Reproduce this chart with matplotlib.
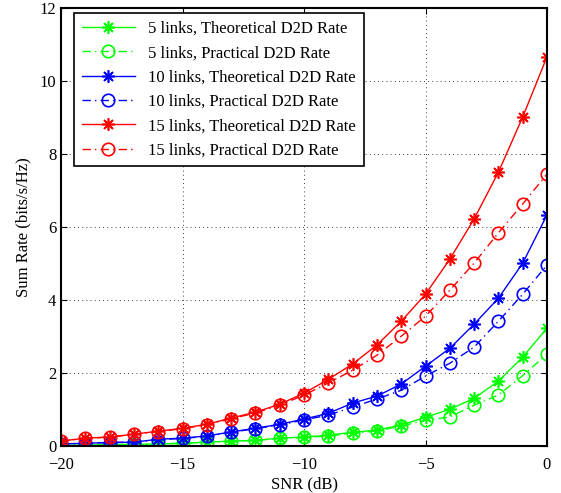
import matplotlib
matplotlib.use('Agg')
import matplotlib.pyplot as plt
import numpy as np

plt.rcParams['font.family'] = 'Liberation Serif'
plt.rcParams['font.size'] = 12
plt.rcParams['mathtext.fontset'] = 'stix'

snr = np.arange(-20, 1, 1)

# sum rate values (bits/s/Hz)
theo_5 = [0.02, 0.03, 0.04, 0.05, 0.06, 0.08, 0.11, 0.14, 0.16, 0.22, 0.25,
          0.30, 0.38, 0.44, 0.58, 0.79, 1.01, 1.31, 1.78, 2.44, 3.23]
prac_5 = [0.02, 0.03, 0.04, 0.05, 0.06, 0.08, 0.11, 0.13, 0.16, 0.21, 0.24,
          0.28, 0.35, 0.42, 0.55, 0.71, 0.80, 1.12, 1.40, 1.93, 2.52]
theo_10 = [0.06, 0.08, 0.10, 0.11, 0.19, 0.22, 0.28, 0.39, 0.49, 0.60, 0.74,
           0.90, 1.18, 1.37, 1.70, 2.19, 2.68, 3.34, 4.05, 5.01, 6.33]
prac_10 = [0.06, 0.08, 0.10, 0.11, 0.18, 0.21, 0.27, 0.38, 0.48, 0.58, 0.72,
           0.85, 1.07, 1.29, 1.53, 1.92, 2.27, 2.71, 3.42, 4.16, 4.96]
theo_15 = [0.14, 0.22, 0.25, 0.33, 0.41, 0.49, 0.60, 0.77, 0.93, 1.15, 1.45,
           1.83, 2.25, 2.77, 3.42, 4.16, 5.12, 6.22, 7.50, 9.01, 10.66]
prac_15 = [0.14, 0.21, 0.25, 0.32, 0.40, 0.48, 0.59, 0.75, 0.91, 1.12, 1.40,
           1.73, 2.08, 2.49, 3.01, 3.56, 4.27, 5.01, 5.84, 6.63, 7.45]

fig = plt.figure(figsize=(5.61, 4.93), dpi=100)
ax = fig.add_axes([0.109, 0.095, 0.866, 0.889])

star = (8, 2, 0)   # matlab style asterisk
ms_star = 9
ms_circ = 9
series = [
    (theo_5, prac_5, '#00ff00', '5 links'),
    (theo_10, prac_10, '#0000ff', '10 links'),
    (theo_15, prac_15, '#ff0000', '15 links'),
]
for theo, prac, c, name in series:
    ax.plot(snr, theo, '-', marker=star, color=c, lw=1, ms=ms_star, mew=1.2,
            label=name + ', Theoretical D2D Rate')
    ax.plot(snr, prac, linestyle=(0, (6, 3, 1, 3)), marker='o', color=c, lw=1,
            ms=ms_circ, mew=1.2, mfc='none', label=name + ', Practical D2D Rate')

ax.set_xlim(-20, 0)
ax.set_ylim(0, 12)
ax.set_xticks([-20, -15, -10, -5, 0])
ax.set_yticks([0, 2, 4, 6, 8, 10, 12])
ax.tick_params(direction='in', length=4, width=0.8, top=True, right=True)
ax.tick_params(axis='x', pad=8)
for s in ax.spines.values():
    s.set_linewidth(1.5)
ax.grid(True, linestyle=(0, (1, 4)), color='k', lw=0.6)

ax.set_xlabel('SNR (dB)', labelpad=2)
ax.set_ylabel('Sum Rate (bits/s/Hz)', labelpad=6)

leg = ax.legend(loc='upper left', bbox_to_anchor=(0.02, 0.995), frameon=True,
                fancybox=False, edgecolor='k', framealpha=1, fontsize=12,
                handlelength=3.2, borderpad=0.45, labelspacing=0.5, borderaxespad=0.2)
leg.get_frame().set_linewidth(1.2)

fig.savefig('out.png', dpi=100)
